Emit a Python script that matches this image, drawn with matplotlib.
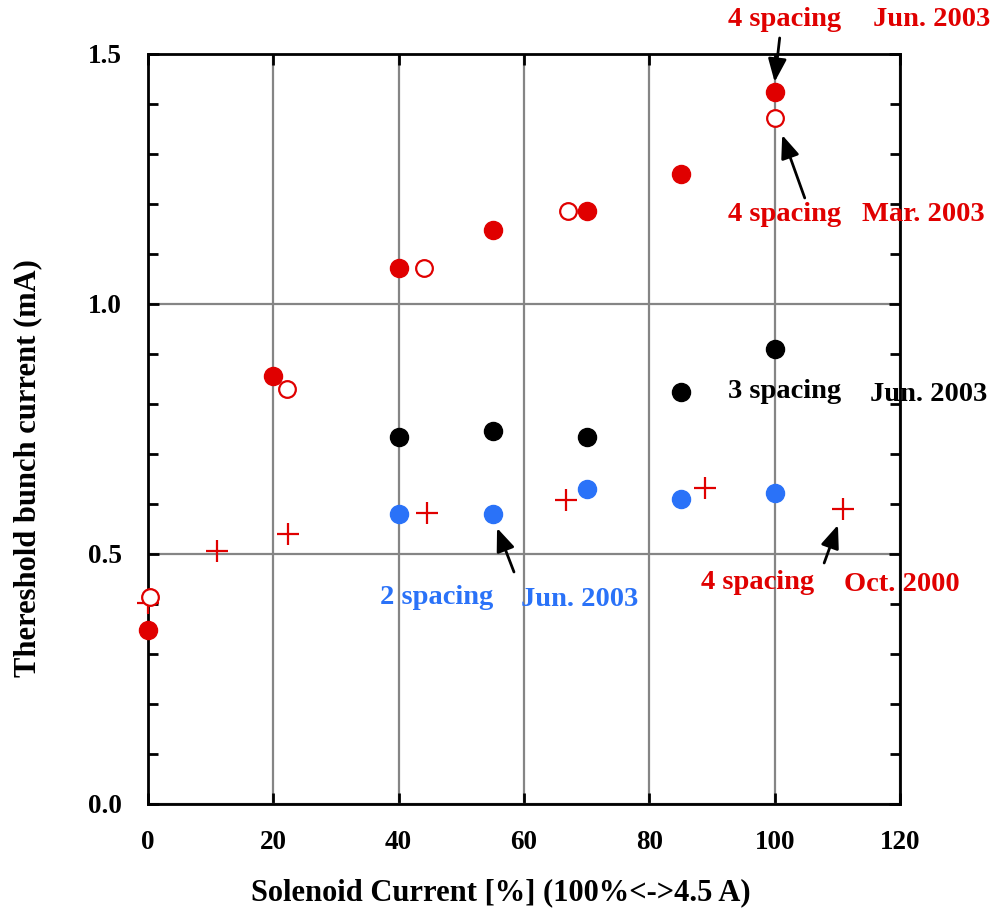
import matplotlib
matplotlib.use('Agg')
import matplotlib.pyplot as plt
from matplotlib.ticker import MultipleLocator

plt.rcParams['font.family'] = ['Liberation Serif', 'DejaVu Serif']
plt.rcParams['font.weight'] = 'bold'

# 4 spacing, Jun. 2003 (red filled)
x_jun4 = [0, 20, 40, 55, 70, 85, 100]
y_jun4 = [0.348, 0.856, 1.072, 1.148, 1.186, 1.26, 1.424]

# 4 spacing, Mar. 2003 (red open)
x_mar4 = [0.3, 22.2, 44, 67, 100]
y_mar4 = [0.414, 0.83, 1.072, 1.186, 1.372]

# 3 spacing, Jun. 2003 (black)
x_jun3 = [40, 55, 70, 100]
y_jun3 = [0.734, 0.746, 0.734, 0.91]
key_jun3 = (85, 0.824)

# 2 spacing, Jun. 2003 (blue)
x_jun2 = [40, 55, 70, 85, 100]
y_jun2 = [0.58, 0.58, 0.63, 0.61, 0.622]

# 4 spacing, Oct. 2000 (red plus)
x_oct4 = [0, 11, 22.3, 44.5, 66.7, 88.9, 110.9]
y_oct4 = [0.402, 0.506, 0.54, 0.582, 0.608, 0.632, 0.59]

red = '#e00000'
blue = '#2a72f8'

fig = plt.figure(figsize=(9.98, 9.10), dpi=100)
ax = fig.add_axes([0.1483, 0.1165, 0.7535, 0.8242])

ax.plot(x_oct4, y_oct4, '+', color=red, ms=16, mew=1.6, ls='none', zorder=3, clip_on=False)
ax.plot(x_mar4, y_mar4, 'o', mfc='white', mec=red, ms=12, mew=1.6, ls='none', zorder=3, clip_on=False)
ax.plot(x_jun4, y_jun4, 'o', color=red, ms=13, ls='none', zorder=4, clip_on=False)
ax.plot(x_jun3, y_jun3, 'o', color='black', ms=13, ls='none', zorder=4)
ax.plot([key_jun3[0]], [key_jun3[1]], 'o', color='black', ms=13, zorder=4)
ax.plot(x_jun2, y_jun2, 'o', color=blue, ms=13, ls='none', zorder=4)

ax.set_xlim(0, 120)
ax.set_ylim(0, 1.5)
ax.xaxis.set_major_locator(MultipleLocator(20))
ax.yaxis.set_minor_locator(MultipleLocator(0.1))
ax.set_yticks([0, 0.5, 1.0, 1.5])
ax.set_yticklabels(['0.0', '0.5', '1.0', '1.5'])
ax.tick_params(which='both', direction='in', top=True, right=True, width=2,
               labelsize=19.5, pad=19)
ax.tick_params(which='major', length=8)
ax.tick_params(which='minor', length=7)
ax.grid(True, which='major', color='#858585', lw=1.6)
ax.set_axisbelow(True)
for s in ax.spines.values():
    s.set_linewidth(2)

fig.text(501 / 998, 1 - 893 / 910, 'Solenoid Current [%] (100%<->4.5 A)',
         fontsize=22, fontweight='bold', ha='center', va='center')
fig.text(28 / 998, 1 - 468 / 910, 'Thereshold bunch current (mA)',
         fontsize=22, fontweight='bold', ha='center', va='center', rotation=90)

txt = dict(fontsize=20.5, fontweight='bold', ha='center', va='center', clip_on=False)
ax.text(101.6, 1.568, '4 spacing', color=red, **txt)
ax.text(125.1, 1.568, 'Jun. 2003', color=red, **txt)
ax.text(101.6, 1.178, '4 spacing', color=red, **txt)
ax.text(123.8, 1.178, 'Mar. 2003', color=red, **txt)
ax.text(101.6, 0.824, '3 spacing', color='black', **txt)
ax.text(124.5, 0.818, 'Jun. 2003', color='black', **txt)
ax.text(46.0, 0.412, '2 spacing', color=blue, **txt)
ax.text(68.8, 0.408, 'Jun. 2003', color=blue, **txt)
ax.text(97.2, 0.442, '4 spacing', color=red, **txt)
ax.text(120.3, 0.438, 'Oct. 2000', color=red, **txt)

arr = dict(arrowstyle='-|>,head_length=1.0,head_width=0.4', mutation_scale=14,
           lw=2, color='black', shrinkA=0, shrinkB=0)
ax.annotate('', xy=(100.0, 1.444), xytext=(100.8, 1.532), arrowprops=arr, annotation_clip=False)
ax.annotate('', xy=(101.2, 1.338), xytext=(104.8, 1.212), arrowprops=arr)
ax.annotate('', xy=(110.1, 0.558), xytext=(107.9, 0.482), arrowprops=arr)
ax.annotate('', xy=(55.7, 0.552), xytext=(58.4, 0.464), arrowprops=arr)

fig.savefig('out.png', dpi=100)
